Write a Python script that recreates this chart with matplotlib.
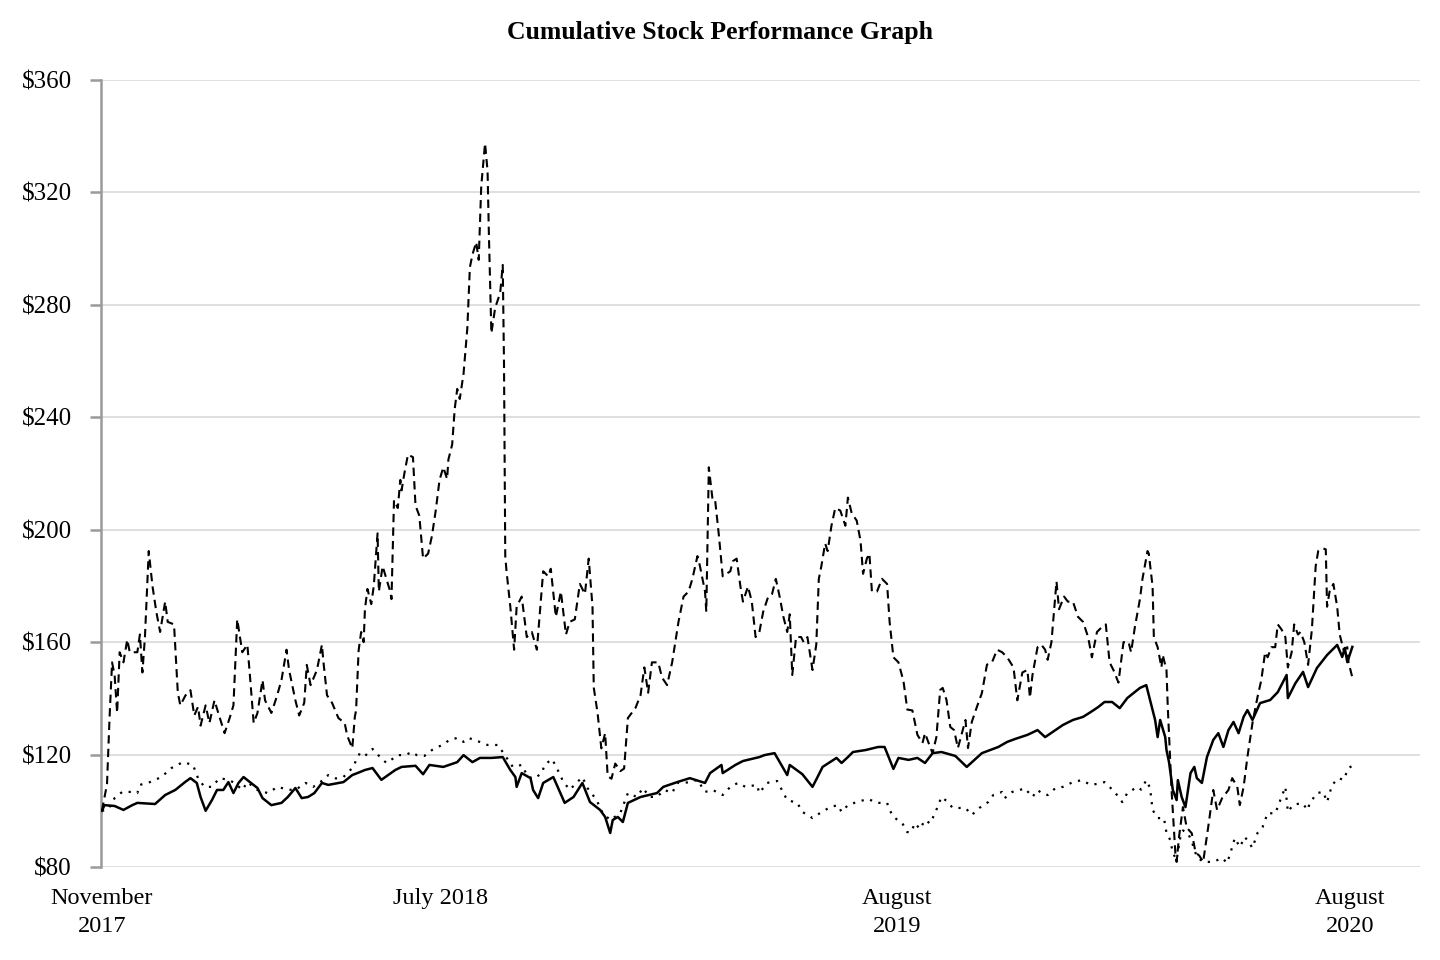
import numpy as np
import matplotlib.pyplot as plt

plt.rcParams['font.family'] = ['Liberation Serif', 'DejaVu Serif']

# x = days since 17 Nov 2017, y = value of $100 invested

# company stock (dashed)
stock_days = [0, 4, 6, 8, 10, 12, 14, 17, 20, 22, 28, 30, 32, 34, 37, 40, 43, 46, 50, 52,
              57, 60, 62, 66, 70, 73, 76, 78, 82, 85, 89, 92, 97, 101, 104, 107, 111, 115, 117, 120,
              123, 127, 129, 134, 138, 142, 146, 148, 153, 156, 160, 162, 165, 170, 174, 175, 178, 182, 187, 192,
              194, 198, 200, 201, 203, 205, 207, 208, 210, 213, 215, 218, 219, 222, 225, 228, 229, 231, 234, 236,
              237, 239, 242, 246, 248, 251, 254, 258, 261, 264, 267, 270, 273, 274, 277, 279, 281, 283, 286, 289,
              291, 293, 296, 298, 300, 303, 305, 306, 308, 311, 315, 317, 318, 319, 320, 323, 326, 328, 332, 336,
              340, 344, 349, 353, 355, 359, 363, 367, 370, 374, 378, 382, 385, 388, 389, 392, 395, 398, 400, 403,
              406, 410, 413, 416, 422, 426, 429, 432, 435, 440, 443, 447, 451, 456, 460, 464, 467, 471, 473, 477,
              478, 480, 483, 485, 488, 491, 494, 497, 499, 502, 505, 507, 511, 514, 517, 520, 523, 527, 530, 533,
              536, 539, 542, 544, 546, 549, 553, 555, 558, 562, 565, 567, 569, 572, 574, 577, 580, 584, 588, 590,
              593, 597, 600, 602, 605, 607, 609, 613, 617, 621, 623, 626, 630, 634, 637, 641, 645, 649, 651, 655,
              657, 660, 663, 665, 668, 671, 674, 677, 683, 685, 688, 692, 696, 700, 704, 708, 712, 716, 721, 724,
              728, 732, 734, 736, 740, 743, 746, 748, 751, 755, 757, 761, 764, 768, 772, 776, 780, 783, 787, 791,
              794, 797, 800, 804, 808, 812, 814, 817, 821, 823, 827, 828, 831, 832, 835, 838, 839, 842, 843, 846,
              849, 850, 852, 855, 858, 862, 865, 868, 871, 875, 879, 882, 886, 891, 894, 898, 900, 903, 906, 910,
              914, 917, 920, 922, 925, 928, 930, 933, 936, 938, 941, 943, 946, 948, 951, 954, 957, 960, 962, 966,
              968, 969, 971, 974, 977, 979, 982, 985, 986, 989]
stock_vals = [100, 109.5, 133, 152.8, 148.3, 134.8, 156.4, 152.8, 160.9, 156.4, 156.4, 162.7, 149.2, 161.8, 192.4, 179.8, 170.8, 163.6, 174.4, 167.2,
              166.3, 142, 137.5, 141, 142.9, 133.9, 137, 130.3, 137.5, 131.2, 139.3, 134.8, 127.6, 133, 137.5, 168.1, 156.4, 159.1, 148.3, 131.2,
              134.8, 146.5, 139.3, 134.8, 140.2, 146.5, 157.3, 150.1, 139.3, 133.9, 138.4, 151.9, 144.7, 150, 159.1, 153.7, 141.1, 138.4, 133, 131.2,
              126.7, 122.2, 133.4, 135.7, 157, 163.6, 160, 171.7, 178.9, 173.5, 180, 198.7, 178, 187, 182.5, 178, 175.3, 210.5, 207.7, 217.7,
              214, 219.5, 226.7, 225.8, 208.6, 205, 189.7, 191.5, 197.8, 206.8, 217.7, 222.2, 218, 224.9, 230.3, 242.9, 250.1, 246.5, 255.5, 271.7,
              293.3, 297.8, 302.3, 296, 322.2, 337.5, 327.6, 306, 269.9, 278.9, 284.3, 294.2, 259.1, 190.6, 185.2, 172.6, 157.3, 172.6, 176.2, 161.8,
              163.6, 157.3, 185.2, 183.4, 186.1, 169, 178, 162.7, 167.2, 168.1, 180.7, 177.1, 189.7, 172.6, 143.8, 134.8, 122.2, 127.6, 112.3, 111.4,
              116.8, 114.1, 115, 133, 136.6, 141.1, 151, 142, 152.8, 152.8, 147.4, 144.7, 152.8, 167.2, 176.2, 178, 182.5, 190.6, 187, 178,
              170.8, 222.2, 210.5, 210.5, 197.8, 183.4, 184.3, 185.2, 188.8, 189.7, 179.8, 174.4, 179.8, 174.4, 161.8, 163.6, 170.8, 176.2, 177.1, 182.5,
              176.2, 169, 163.6, 169.9, 148.3, 161.8, 161.8, 160, 161.8, 150.1, 159.1, 182.5, 187, 195.1, 192.4, 201.4, 207.7, 206.8, 201.4, 211.4,
              205.9, 203.2, 196, 184.3, 189.7, 191.5, 178, 178, 182.5, 180.7, 167.2, 154.6, 152.8, 146, 136, 135.7, 127, 124.1, 127.6, 122.7,
              120.5, 126.2, 143, 143.7, 139.4, 129.8, 128.7, 122.3, 132.3, 122.3, 131.6, 136.9, 141.9, 152, 152.8, 157.3, 156.4, 154.6, 151, 139.3,
              149.2, 150.1, 140.2, 148.3, 158.2, 159.1, 157.3, 153.7, 160, 181.6, 171.7, 176.2, 174.4, 174.4, 169, 167.2, 161.8, 154.6, 163.6, 165.4,
              166.3, 152.8, 150.1, 145.6, 160, 160, 156.4, 165.4, 175.3, 182.5, 192.4, 191.5, 179.8, 161.8, 158.2, 151, 155.5, 150, 137, 107.4,
              85, 81.8, 91, 101.3, 94, 92, 85.2, 84, 81.8, 94.2, 107.4, 100.3, 104.5, 107.4, 111.6, 108.5, 102, 108.5, 119.1, 131.2,
              140.5, 146.5, 156.4, 154.6, 158.2, 158.2, 166.3, 164.5, 161.8, 151, 156.4, 166.3, 162.7, 163.6, 160, 151.9, 164.5, 187, 192.4, 193.3,
              193, 172.6, 178, 180.7, 172.6, 162.7, 157.3, 158.2, 152.8, 147.4]

# broad market index (solid)
index_days = [0, 2, 10, 17, 24, 28, 42, 50, 58, 66, 70, 75, 78, 82, 87, 91, 96, 100, 104, 108,
              112, 117, 123, 127, 134, 142, 147, 153, 158, 163, 168, 174, 179, 191, 198, 202, 208, 214, 221, 232,
              237, 248, 254, 259, 270, 281, 286, 293, 299, 308, 317, 323, 327, 328, 332, 339, 341, 345, 349, 357,
              366, 373, 380, 386, 394, 398, 402, 404, 408, 412, 416, 426, 439, 444, 455, 465, 477, 481, 490, 491,
              501, 507, 520, 524, 532, 542, 544, 554, 562, 566, 570, 581, 585, 590, 594, 604, 614, 619, 626, 630,
              638, 645, 651, 657, 664, 675, 684, 696, 709, 716, 722, 732, 740, 746, 760, 768, 776, 782, 788, 793,
              799, 805, 811, 816, 821, 826, 829, 833, 835, 837, 841, 842, 844, 847, 850, 851, 854, 857, 861, 864,
              866, 870, 874, 879, 883, 887, 891, 895, 899, 903, 906, 910, 916, 924, 930, 937, 938, 944, 950, 954,
              961, 969, 977, 981, 983, 985, 989]
index_vals = [100, 102, 101.7, 100.3, 102, 102.8, 102.4, 105.6, 107.4, 110.3, 111.6, 109.9, 104.9, 100, 103.8, 107.4, 107.4, 110.2, 106.3, 109.9,
              112, 110.2, 108.1, 104.5, 102, 102.8, 104.9, 108.1, 104.5, 104.9, 106.3, 109.9, 109.2, 110.2, 112.7, 113.4, 114.5, 115.2, 111, 114.5,
              115.6, 116, 113, 116.3, 115.6, 117.3, 119.8, 117.3, 118.8, 118.8, 119.1, 114.5, 112, 108.5, 113.4, 111.6, 107.4, 104.5, 109.9, 112,
              102.8, 104.9, 109.9, 103.1, 100.3, 97.8, 92.1, 96.7, 97.8, 96, 102.8, 104.9, 106.3, 108.5, 110.2, 111.6, 109.9, 113.4, 116.3, 113.4,
              116.3, 117.7, 119.1, 119.8, 120.5, 112.7, 116.3, 113, 108.5, 112, 115.6, 118.8, 117, 119.1, 120.9, 121.6, 122.7, 122.7, 114.9, 118.8,
              118.1, 118.8, 117, 120.5, 120.9, 119.5, 115.6, 120.5, 122.7, 124.5, 125.5, 127, 128.7, 126.2, 130.5, 132.3, 133.4, 135.1, 136.9, 138.7,
              138.7, 136.5, 140.1, 141.9, 143.7, 144.7, 139.4, 132.3, 126.2, 132.3, 126.2, 121.6, 117.3, 107.4, 103.8, 110.9, 104.9, 101.3, 113.4, 115.6,
              111.6, 109.9, 119.1, 125.2, 127.6, 122.7, 128.7, 131.6, 127.6, 133.4, 135.8, 132.3, 138.3, 139.4, 142.2, 148.3, 140.1, 145.4, 149.4, 144,
              150.8, 155.4, 159, 154.7, 157.9, 152.9, 158.3]

# peer group index (dotted)
peer_days = [0, 5, 10, 16, 24, 28, 30, 38, 47, 55, 64, 72, 76, 81, 87, 93, 100, 105, 111, 115,
             123, 131, 139, 147, 153, 161, 167, 172, 179, 185, 191, 198, 204, 208, 214, 220, 225, 230, 234, 240,
             245, 249, 255, 261, 269, 275, 281, 286, 290, 297, 305, 313, 317, 325, 332, 337, 342, 348, 350, 356,
             360, 365, 370, 376, 380, 384, 391, 396, 402, 410, 416, 423, 428, 433, 439, 445, 451, 455, 460, 465,
             471, 477, 483, 491, 497, 503, 509, 518, 520, 526, 534, 539, 542, 550, 554, 562, 568, 576, 582, 585,
             590, 597, 606, 613, 621, 623, 626, 633, 637, 640, 643, 647, 651, 655, 659, 664, 668, 673, 683, 688,
             694, 701, 705, 712, 714, 720, 726, 730, 736, 740, 744, 748, 754, 760, 768, 775, 782, 789, 793, 801,
             807, 811, 819, 822, 826, 829, 831, 835, 840, 842, 845, 847, 850, 853, 855, 859, 862, 866, 871, 879,
             886, 890, 894, 896, 900, 904, 910, 914, 918, 922, 928, 932, 936, 938, 942, 949, 954, 955, 961, 966,
             969, 973, 978, 982, 986, 989]
peer_vals = [100, 100.5, 104.5, 106.7, 106.7, 106.3, 109.2, 110.2, 112, 115.2, 117.3, 116.3, 111.6, 108.5, 108.5, 111.6, 111, 109.9, 107.4, 110.2,
             107.4, 106.3, 108.5, 107.5, 107.4, 109.9, 108.5, 109.9, 112.7, 111.5, 112, 115.2, 120.5, 119.5, 122, 119.1, 117, 118.5, 119.8, 119.8,
             120.9, 119.8, 119.5, 121.6, 123.4, 125.2, 125.9, 124.5, 125.9, 124.8, 123.4, 123.4, 120.9, 115.6, 116.3, 112, 111.5, 113.4, 116.3, 118.4,
             115, 110.2, 107.5, 110.2, 112, 108.1, 104, 99.2, 96.7, 99.2, 106.3, 104.9, 108.1, 104.9, 105, 107.4, 106.3, 109.9, 109.9, 110.2,
             111, 106.7, 107.4, 105.6, 108.5, 109.9, 108.5, 109.2, 106.3, 109.9, 110.6, 106.3, 103.8, 102.8, 99.6, 97.4, 99.2, 101.3, 102, 99.6,
             102, 103.1, 104.2, 102.8, 102.8, 100.3, 97.8, 95.6, 92.4, 92.4, 95.6, 93.5, 96.7, 95.5, 99.2, 104.9, 103.5, 101, 101, 98.5,
             101, 103.1, 105.6, 106.7, 104.5, 106.7, 107.4, 108, 104.9, 107.4, 106, 105.6, 108, 108.5, 110.2, 110.9, 109.2, 109.7, 110.2, 106.7,
             103.1, 106.3, 108.5, 107.5, 110.9, 108.1, 100.3, 97.4, 97.4, 92.1, 89.6, 85, 82.5, 90.7, 93, 92.1, 89, 83.6, 81.8, 81.8,
             83.2, 81.4, 87.1, 90.3, 87.1, 90.7, 86.8, 92.1, 94.2, 99.2, 99, 103.8, 108.5, 99.6, 102, 102.8, 100.3, 102.5, 106.3, 106.7,
             103.1, 109.2, 111.6, 111, 115.2, 116]

tick_days = [0, 268, 629, 987]
tick_labels = ['November\n2017', 'July 2018', 'August\n2019', 'August\n2020']
y_ticks = [80, 120, 160, 200, 240, 280, 320, 360]

fig = plt.figure(figsize=(14.4, 9.6), dpi=100)
ax = fig.add_axes([0.0701, 0.0969, 0.916, 0.8198])

ax.plot(stock_days, stock_vals, color='black', lw=1.5, linestyle=(0, (4, 2.5)), zorder=3)
ax.plot(index_days, index_vals, color='black', lw=1.8, zorder=4)
ax.plot(peer_days, peer_vals, color='black', lw=1.6, linestyle=(0, (1, 3)), zorder=3)

ax.set_xlim(-0.8, 1042.5)
ax.set_ylim(80, 360)
ax.set_yticks(y_ticks)
ax.set_yticklabels(['$%d' % v for v in y_ticks])
ax.set_xticks(tick_days)
ax.set_xticklabels(tick_labels, linespacing=1.45)

ax.grid(axis='y', color='#dcdcdc', lw=1.3, zorder=0)
ax.set_axisbelow(True)
for s in ['top', 'right', 'bottom']:
    ax.spines[s].set_visible(False)
ax.spines['left'].set_color('#9a9a9a')
ax.spines['left'].set_linewidth(1.8)

ax.tick_params(axis='y', length=8, width=1.8, color='#9a9a9a', pad=13, labelsize=18)
ax.tick_params(axis='x', length=0, pad=15, labelsize=17.5)

fig.text(0.5, 0.966, 'Cumulative Stock Performance Graph', ha='center', va='center',
         fontsize=18.5, fontweight='bold')

fig.savefig('out.png', dpi=100)
